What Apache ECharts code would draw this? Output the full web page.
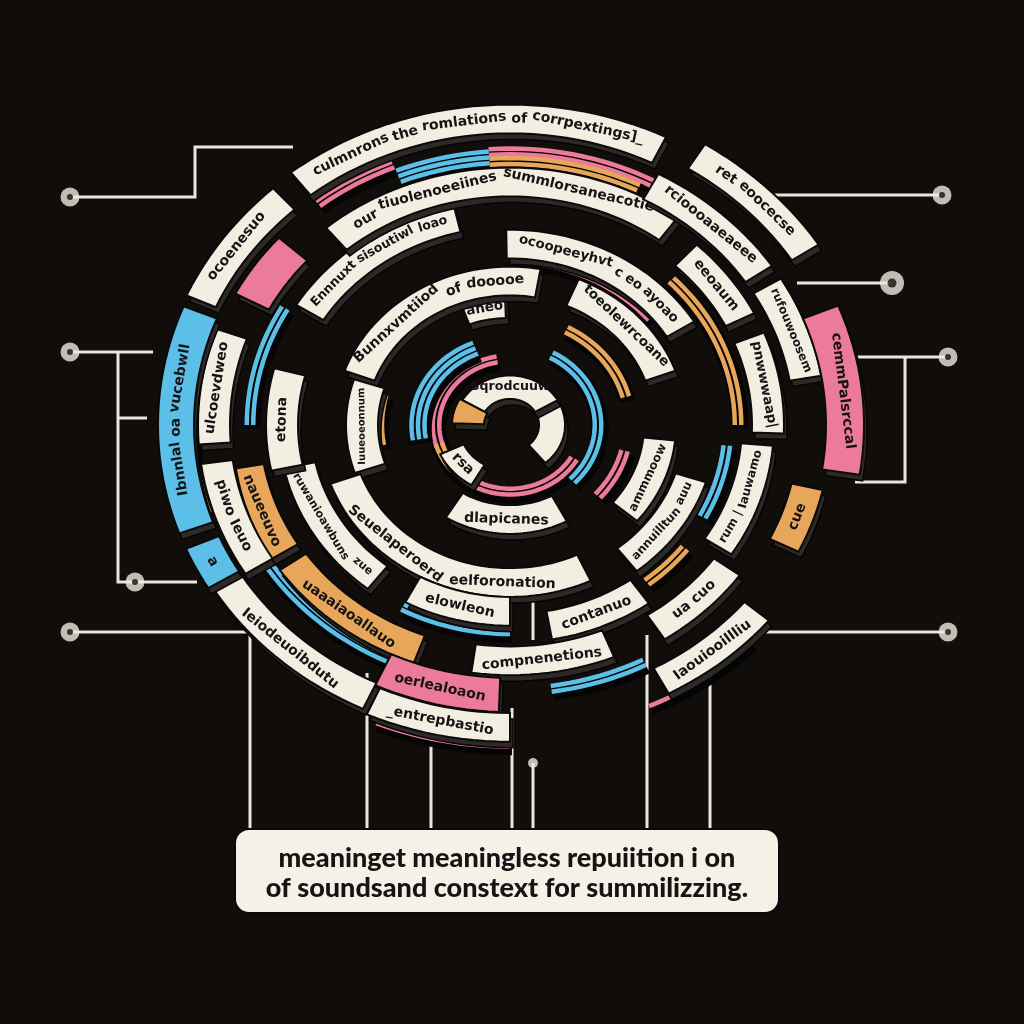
<!DOCTYPE html>
<html>
<head>
<meta charset="utf-8">
<script src="https://cdn.jsdelivr.net/npm/echarts@6/dist/echarts.min.js"></script>
<style>
html, body { margin: 0; background: #100d0b; }
#chart { width: 1024px; height: 1024px; }
</style>
</head>
<body>
<div id="chart"></div>
<script>
// ring data: [ring radius, from angle, to angle, kind, text]
const innerTags = [
    [42, -50, 30, 'creamS', ''],
    [42, 30, 150, 'creamS', 'Sqrodcuuw'],
    [42, 150, 178, 'orangeBox', ''],
    [64, 205, 240, 'creamS', 'rsa'],
    [132, 92, 110, 'creamS', 'aneo'],
    [160, 80, 160, 'cream', 'Bunnxvmtiiod of dooooe'],
    [160, 20, 67, 'cream', 'toeolewrcoane'],
    [150, -40, -6, 'cream', 'ammmoow'],
    [148, 162, 199, 'cream', 'Iuueoeonnum'],
    [105, 238, 298, 'cream', 'dlapicanes'],
    [175, 200, 295, 'cream', 'Seuelaperoerd eelforonation']
];
const middleTags = [
    [201, 32, 91, 'cream', 'ocoopeeyhvt c eo ayoao'],
    [236, 103, 148, 'cream', 'Ennnuxt sisoutiwl loao'],
    [270, 54, 130, 'cream', 'our tiuolenoeeiines summlorsaneacotie'],
    [258, 27, 47, 'cream', 'eeoaum'],
    [258, -2, 22, 'cream', 'pnwwwaap|'],
    [248, -33, -5, 'cream', 'rum | Iauwamo'],
    [190, -52, -18, 'cream', 'annuilltun auu'],
    [268, -57, -36, 'cream', 'ua cuo'],
    [226, -80, -55, 'cream', 'contanuo'],
    [207, 242, 270, 'cream', 'elowleon'],
    [262, 262, 292, 'cream', 'compnenetions'],
    [215, 192, 232, 'cream', 'ruwanioawbuns zue'],
    [228, 165, 192, 'cream', 'etona'],
    [265, 215, 250, 'orangeBox', 'uaaaiaoallauo'],
    [266, 190, 212, 'orangeBox', 'naueeuvo']
];
const outerTags = [
    [340, 64, 128, 'cream', 'culmnrons the romlations of corrpextings]_'],
    [300, 34, 62, 'cream', 'rcioooaaeaeee'],
    [352, 33, 58, 'cream', 'ret eoocecse'],
    [300, 10, 31, 'cream', 'rufouwoosem'],
    [335, -9, 22, 'pinkBox', 'cemmPalsrccal'],
    [305, -26, -13, 'orangeBox', 'cue'],
    [322, -62, -40, 'cream', 'Iaouiooillliu'],
    [300, 245, 268, 'pinkBox', 'oerlealoaon'],
    [336, 246, 270, 'cream', '_entrepbastio'],
    [332, 212, 245, 'cream', 'Ieiodeuoibdutu'],
    [296, 188, 212, 'cream', 'piwo Ieuo'],
    [296, 160, 184, 'cream', 'ulcoevdweo'],
    [334, 158, 200, 'blueBox', 'Ibnnlal oa vucebwll'],
    [334, 203, 211, 'blueBox', 'a'],
    [292, 138, 152, 'pinkBox', ''],
    [338, 132, 156, 'cream', 'ocoenesuo']
];
// coloured stripes: [ring radius, from angle, to angle, kind]
const stripes = [
    [74, 100, 330, 'pink2'], [92, 112, 190, 'blue3'], [74, 196, 222, 'orange2'],
    [88, -45, 62, 'blue2'], [120, 15, 62, 'orange2'], [181, 40, 85, 'pink1'],
    [298, 94, 112, 'blue3'], [304, 62, 94, 'pink2'], [290, 64, 94, 'orange3'],
    [312, 112, 128, 'pink2'], [228, 0, 45, 'orange2'], [218, -28, -6, 'blue2'],
    [118, -42, -14, 'pink2'], [222, -52, -38, 'orange2'], [342, -66, -45, 'pink1'],
    [296, -82, -63, 'blue2'], [229, 242, 270, 'blue2'], [354, 248, 270, 'pink2'],
    [287, 210, 245, 'blue2'], [260, 150, 180, 'blue2'], [128, 165, 190, 'orange1'],
    [316, 165, 198, 'orange1']
];
// connector paths and end dots
const leftLinks = [
    [[70, 197], [195, 197], [195, 147], [293, 147]],
    [[70, 352], [153, 352]],
    [[118, 352], [118, 582], [197, 582]],
    [[118, 418], [147, 418]],
    [[70, 632], [250, 632], [250, 828]]
];
const dropLinks = [
    [[367, 673], [367, 828]], [[431, 738], [431, 828]], [[512, 708], [512, 828]],
    [[533, 570], [533, 640]], [[533, 763], [533, 828]], [[647, 635], [647, 828]],
    [[710, 677], [710, 828]], [[743, 632], [950, 632]]
];
const rightLinks = [
    [[942, 195], [773, 195]],
    [[892, 283], [797, 283]],
    [[948, 357], [853, 357]],
    [[905, 357], [905, 482], [855, 482]]
];
const nodeDots = [[70, 197], [70, 352], [135, 582], [70, 632], [942, 195], [892, 283], [948, 357], [948, 632]];
const smallDots = [[533, 763]];
const captionLines = ['meaninget meaningless repuiition i on', 'of soundsand constext for summilizzing.'];

const CX = 510, CY = 425, K = 0.9;
const BLUE = '#5bbfe8', PINK = '#ec7a9b', ORANGE = '#e8a65a', CREAM = '#f2eee2', INK = '#141414';
const KIND = {
    cream: { fill: CREAM, thick: 32 },
    creamS: { fill: CREAM, thick: 26 },
    blueBox: { fill: BLUE, thick: 36 },
    pinkBox: { fill: PINK, thick: 38 },
    orangeBox: { fill: ORANGE, thick: 32 },
    blue2: { color: BLUE, lines: 2 }, blue3: { color: BLUE, lines: 3 },
    pink1: { color: PINK, lines: 1 }, pink2: { color: PINK, lines: 2 },
    orange1: { color: ORANGE, lines: 1 }, orange2: { color: ORANGE, lines: 2 },
    orange3: { color: ORANGE, lines: 3 }
};
const BASE_SIZE = 14;
const allTags = innerTags.concat(middleTags, outerTags);

const measureCtx = document.createElement('canvas').getContext('2d');
function fontOf(size) {
    return 'bold ' + size.toFixed(1) + 'px "DejaVu Sans"';
}
function textWidth(s, font) {
    measureCtx.font = font;
    return measureCtx.measureText(s).width;
}

function pt(api, r, a) {
    const rad = a * Math.PI / 180;
    return api.coord([CX + r * Math.cos(rad), CY - K * r * Math.sin(rad)]);
}

function arcLine(api, r, a0, a1, dx, dy) {
    const n = Math.max(6, Math.ceil(Math.abs(a1 - a0) / 2));
    const pts = [];
    for (let i = 0; i <= n; i++) {
        const p = pt(api, r, a0 + (a1 - a0) * i / n);
        pts.push([p[0] + (dx || 0), p[1] + (dy || 0)]);
    }
    return pts;
}

function band(api, r, a0, a1, th, dx, dy) {
    const outer = arcLine(api, r + th / 2, a0, a1, dx, dy);
    const inner = arcLine(api, r - th / 2, a0, a1, dx, dy).reverse();
    return outer.concat(inner);
}

// lay the words of a label along its arc, each word turned to the tangent
function wordsOnArc(api, r, a0, a1, text) {
    const out = [];
    if (!text) return out;
    const m = (a0 + a1) / 2;
    const dir = Math.sin(m * Math.PI / 180) < -0.3 ? 1 : -1;
    const p0 = pt(api, r, m), p1 = pt(api, r, m + 1);
    const perDeg = Math.hypot(p1[0] - p0[0], p1[1] - p0[1]);
    const room = perDeg * Math.abs(a1 - a0) * 0.9;
    let font = fontOf(BASE_SIZE);
    const full = textWidth(text, font);
    if (full > room) font = fontOf(Math.max(8, BASE_SIZE * room / full));
    const words = text.split(' ');
    const space = textWidth(' ', font);
    const widths = words.map(w => textWidth(w, font));
    const total = widths.reduce((s, w) => s + w, 0) + space * (words.length - 1);
    let offset = -total / 2;
    words.forEach((w, i) => {
        const ang = m + dir * (offset + widths[i] / 2) / perDeg;
        const p = pt(api, r, ang);
        const q1 = pt(api, r, ang - dir * 0.5), q2 = pt(api, r, ang + dir * 0.5);
        out.push({
            type: 'text',
            x: p[0], y: p[1],
            rotation: -Math.atan2(q2[1] - q1[1], q2[0] - q1[0]),
            style: { text: w, font: font, fill: INK, align: 'center', verticalAlign: 'middle' }
        });
        offset += widths[i] + space;
    });
    return out;
}

function renderTag(params, api) {
    const t = allTags[params.dataIndex];
    const r = api.value(0), a0 = api.value(1), a1 = api.value(2);
    const st = KIND[t[3]];
    const children = [
        { type: 'polygon', shape: { points: band(api, r, a0, a1, st.thick, 3, 6) },
          style: { fill: '#2c2926', stroke: '#050505', lineWidth: 1.5 } },
        { type: 'polygon', shape: { points: band(api, r, a0, a1, st.thick) },
          style: { fill: st.fill, stroke: '#0a0a0a', lineWidth: 2 } }
    ];
    return { type: 'group', children: children.concat(wordsOnArc(api, r, a0, a1, t[4])) };
}

function renderStripe(params, api) {
    const s = stripes[params.dataIndex];
    const r = api.value(0), a0 = api.value(1), a1 = api.value(2);
    const st = KIND[s[3]];
    const gap = 6.5;
    const children = [
        { type: 'polygon', shape: { points: band(api, r, a0, a1, st.lines * gap + 4, 2, 4) },
          style: { fill: '#050505' } }
    ];
    for (let j = 0; j < st.lines; j++) {
        const rr = r + (j - (st.lines - 1) / 2) * gap;
        children.push({ type: 'polyline', shape: { points: arcLine(api, rr, a0, a1) },
            style: { stroke: st.color, lineWidth: 4.5, fill: null } });
    }
    return { type: 'group', children: children };
}

const chart = echarts.init(document.getElementById('chart'));
chart.setOption({
    backgroundColor: '#100d0b',
    animation: false,
    grid: { left: 0, right: 0, top: 0, bottom: 0 },
    xAxis: { type: 'value', min: 0, max: 1024, show: false },
    yAxis: { type: 'value', min: 0, max: 1024, inverse: true, show: false },
    series: [
        {
            type: 'lines',
            coordinateSystem: 'cartesian2d',
            polyline: true,
            silent: true,
            z: 1,
            lineStyle: { color: '#ebe6da', width: 3, opacity: 1 },
            data: leftLinks.concat(dropLinks, rightLinks).map(c => ({ coords: c }))
        },
        {
            type: 'custom',
            silent: true,
            z: 2,
            renderItem: renderStripe,
            data: stripes.map(s => [s[0], s[1], s[2]])
        },
        {
            type: 'custom',
            silent: true,
            z: 3,
            renderItem: renderTag,
            data: allTags.map(t => [t[0], t[1], t[2]])
        },
        {
            type: 'scatter',
            silent: true,
            z: 4,
            symbolSize: (v, p) => (p.dataIndex === 5 ? 24 : 19),
            itemStyle: { color: '#efeadf' },
            data: nodeDots
        },
        {
            type: 'scatter',
            silent: true,
            z: 5,
            symbolSize: (v, p) => (p.dataIndex === 5 ? 9 : 6),
            itemStyle: { color: '#100d0b' },
            data: nodeDots
        },
        {
            type: 'scatter',
            silent: true,
            z: 5,
            symbolSize: 10,
            itemStyle: { color: '#efeadf' },
            data: smallDots
        }
    ],
    graphic: [
        {
            type: 'group',
            left: 234,
            top: 828,
            z: 10,
            children: [
                { type: 'rect', shape: { x: 0, y: 0, width: 544, height: 84, r: 14 },
                  style: { fill: '#f5f1e6', stroke: '#0a0a0a', lineWidth: 2 } },
                { type: 'text', x: 272, y: 29,
                  style: { text: captionLines[0], font: '900 27px Lato', fill: INK, align: 'center', verticalAlign: 'middle' } },
                { type: 'text', x: 272, y: 59,
                  style: { text: captionLines[1], font: '900 27px Lato', fill: INK, align: 'center', verticalAlign: 'middle' } }
            ]
        }
    ]
});
</script>
</body>
</html>
